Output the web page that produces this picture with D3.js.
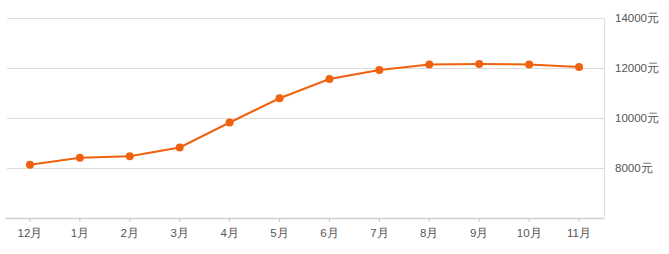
<!DOCTYPE html>
<html>
<head>
<meta charset="utf-8">
<script src="https://cdn.jsdelivr.net/npm/d3@7"></script>
<style>
    body { margin: 0; background: #fff; }
    svg { display: block; font-family: "Noto Sans CJK SC", "Noto Sans", sans-serif; }
</style>
</head>
<body>
<div id="chart"></div>
<script>
// Monthly average price
const months = ['12月', '1月', '2月', '3月', '4月', '5月', '6月', '7月', '8月', '9月', '10月', '11月'];
const prices = [8110, 8390, 8450, 8800, 9800, 10770, 11540, 11900, 12120, 12140, 12120, 12020];
const yTicks = [8000, 10000, 12000, 14000];
const yDomain = [6000, 14000];

const W = 669, H = 254;
const plot = { left: 5, right: 604, top: 17.5, bottom: 217.5 };
const lineColor = '#f0620f';

const svg = d3.select('#chart').append('svg')
    .attr('width', W)
    .attr('height', H);

const x = d3.scaleBand()
    .domain(months)
    .range([plot.left, plot.right]);

const y = d3.scaleLinear()
    .domain(yDomain)
    .range([plot.bottom, plot.top]);

// Grid lines
svg.append('g')
    .selectAll('line')
    .data(yTicks)
    .enter().append('line')
    .attr('x1', plot.left + 2)
    .attr('x2', plot.right)
    .attr('y1', d => Math.round(y(d)) + 0.5)
    .attr('y2', d => Math.round(y(d)) + 0.5)
    .attr('stroke', '#dcdcdc');

// Right border
svg.append('line')
    .attr('x1', plot.right + 0.5).attr('x2', plot.right + 0.5)
    .attr('y1', Math.round(y(14000)) + 0.5).attr('y2', plot.bottom)
    .attr('stroke', '#dcdcdc');

// X axis
const gx = svg.append('g')
    .attr('transform', `translate(0,${Math.round(plot.bottom)})`)
    .call(d3.axisBottom(x).tickSize(4).tickPadding(7).tickSizeOuter(0));
gx.select('.domain').attr('stroke', '#d0d0d0').attr('stroke-width', 1.5);
gx.selectAll('.tick line').attr('stroke', '#c8c8c8');
gx.selectAll('.tick text')
    .attr('fill', '#555')
    .style('font-size', '11.5px')
    .style('font-family', 'inherit');

// Y axis labels (right side)
const gy = svg.append('g')
    .attr('transform', `translate(${plot.right},0)`)
    .call(d3.axisRight(y).tickValues(yTicks).tickSize(0).tickPadding(11).tickFormat(d => d + '元'));
gy.select('.domain').remove();
gy.selectAll('.tick text')
    .attr('fill', '#555')
    .style('font-size', '11.5px')
    .style('font-family', 'inherit');

// Line
const line = d3.line()
    .x((d, i) => x(months[i]) + x.bandwidth() / 2)
    .y(d => y(d));

svg.append('path')
    .datum(prices)
    .attr('d', line)
    .attr('fill', 'none')
    .attr('stroke', lineColor)
    .attr('stroke-width', 2);

// Points
svg.append('g')
    .selectAll('circle')
    .data(prices)
    .enter().append('circle')
    .attr('cx', (d, i) => x(months[i]) + x.bandwidth() / 2)
    .attr('cy', d => y(d))
    .attr('r', 4)
    .attr('fill', lineColor);
</script>
</body>
</html>
